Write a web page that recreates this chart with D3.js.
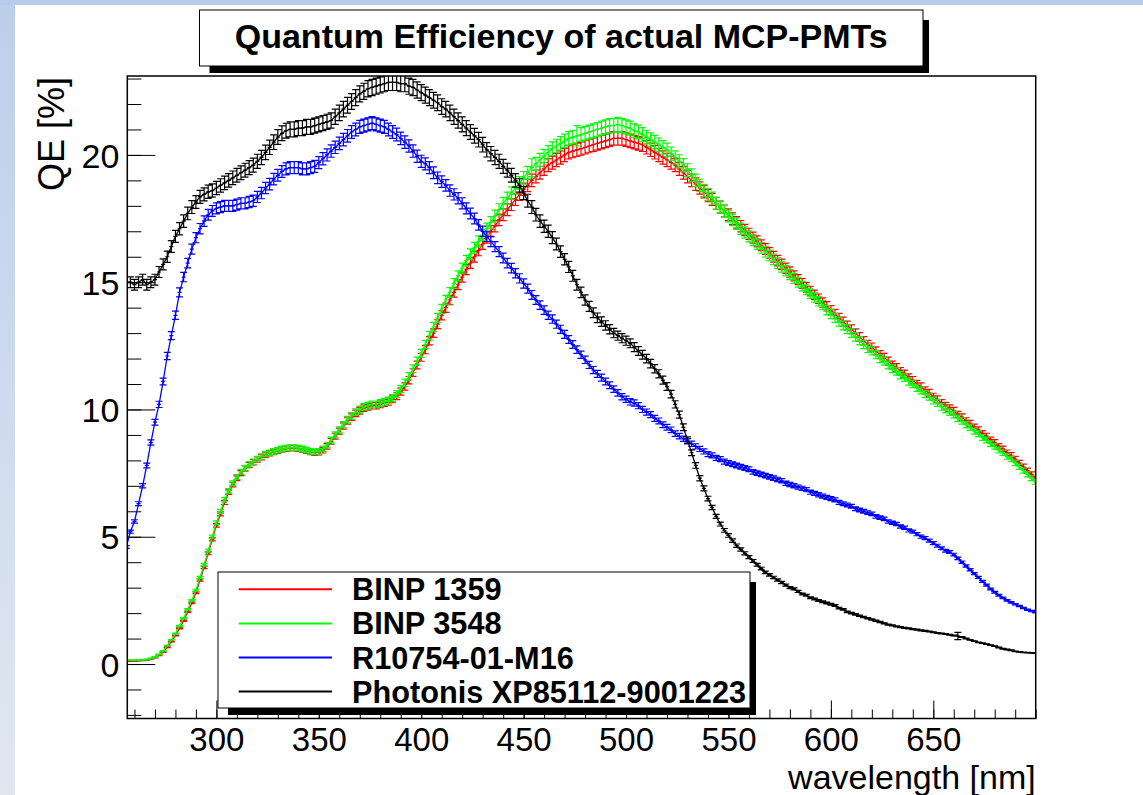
<!DOCTYPE html>
<html><head><meta charset="utf-8">
<script src="https://cdn.jsdelivr.net/npm/d3@7"></script>
<style>html,body{margin:0;padding:0;background:#fff;} svg{display:block;}</style>
</head><body><svg id="c" width="1143" height="795"></svg>
<script>
// ---------------- data ----------------
const wlStart = 256, wlStep = 2;   // wavelength grid (nm) of the measured points
const seriesNames = ["BINP 1359", "BINP 3548", "R10754-01-M16", "Photonis XP85112-9001223"];
const seriesColors = ["#ff0000", "#00ff00", "#0000ff", "#000000"];

const binp1359 = [0.12,
0.12,0.12,0.13,0.14,0.16,0.2,0.25,0.34,0.47,0.66,
0.88,1.12,1.4,1.7,2.05,2.4,2.8,3.3,3.8,4.35,
4.9,5.45,5.9,6.35,6.75,7.05,7.3,7.5,7.68,7.82,
7.93,8.03,8.12,8.22,8.28,8.33,8.38,8.43,8.46,8.48,
8.48,8.46,8.43,8.38,8.33,8.3,8.32,8.4,8.55,8.75,
8.95,9.15,9.35,9.55,9.7,9.85,9.95,10.05,10.1,10.15,
10.15,10.2,10.25,10.3,10.4,10.52,10.7,10.9,11.15,11.45,
11.75,12.05,12.35,12.7,13.0,13.35,13.7,14.0,14.3,14.6,
14.9,15.2,15.5,15.75,16.0,16.25,16.5,16.75,17.0,17.2,
17.45,17.65,17.85,18.05,18.25,18.45,18.65,18.8,19.0,19.15,
19.3,19.45,19.6,19.7,19.8,19.9,20.0,20.1,20.15,20.2,
20.25,20.3,20.35,20.4,20.45,20.5,20.55,20.6,20.65,20.65,
20.65,20.6,20.55,20.5,20.45,20.4,20.3,20.2,20.1,20.0,
19.9,19.8,19.7,19.6,19.45,19.3,19.15,19.0,18.85,18.7,
18.55,18.4,18.25,18.1,17.95,17.8,17.65,17.5,17.35,17.2,
17.05,16.9,16.75,16.6,16.45,16.3,16.15,16.0,15.85,15.7,
15.55,15.4,15.25,15.1,14.95,14.8,14.65,14.5,14.35,14.2,
14.05,13.9,13.75,13.6,13.45,13.3,13.15,13.0,12.85,12.7,
12.55,12.45,12.3,12.15,12.05,11.9,11.75,11.65,11.5,11.4,
11.25,11.15,11.0,10.9,10.75,10.65,10.5,10.4,10.25,10.15,
10.05,9.95,9.8,9.7,9.55,9.45,9.3,9.2,9.05,8.95,
8.8,8.7,8.55,8.45,8.3,8.2,8.05,7.9,7.75,7.6,
7.45,7.3];

const binp3548 = [0.15,
0.15,0.14,0.15,0.16,0.18,0.22,0.28,0.38,0.52,0.72,
0.95,1.2,1.5,1.8,2.15,2.5,2.9,3.4,3.9,4.45,
5.0,5.55,6.0,6.45,6.8,7.1,7.35,7.55,7.7,7.85,
7.95,8.05,8.15,8.25,8.3,8.35,8.4,8.45,8.48,8.5,
8.5,8.48,8.45,8.4,8.35,8.33,8.35,8.45,8.6,8.8,
9.0,9.2,9.4,9.6,9.75,9.9,10.0,10.1,10.15,10.2,
10.2,10.25,10.3,10.35,10.45,10.6,10.8,11.05,11.3,11.6,
11.9,12.2,12.55,12.9,13.25,13.6,13.95,14.3,14.6,14.95,
15.25,15.55,15.85,16.1,16.35,16.6,16.85,17.1,17.35,17.6,
17.85,18.1,18.3,18.5,18.7,18.9,19.1,19.3,19.5,19.65,
19.8,19.95,20.1,20.25,20.35,20.45,20.55,20.65,20.7,20.75,
20.8,20.85,20.9,20.95,21.0,21.05,21.1,21.15,21.15,21.2,
21.15,21.1,21.05,20.95,20.9,20.8,20.7,20.6,20.5,20.4,
20.3,20.2,20.05,19.9,19.75,19.6,19.4,19.2,19.0,18.8,
18.6,18.45,18.3,18.1,17.95,17.8,17.6,17.45,17.3,17.1,
16.95,16.8,16.65,16.5,16.35,16.2,16.05,15.9,15.75,15.6,
15.45,15.3,15.15,15.0,14.85,14.7,14.55,14.4,14.25,14.1,
13.9,13.75,13.6,13.45,13.3,13.15,13.0,12.85,12.7,12.55,
12.4,12.3,12.15,12.0,11.9,11.75,11.6,11.5,11.35,11.25,
11.1,11.0,10.85,10.75,10.6,10.5,10.35,10.25,10.1,10.0,
9.9,9.8,9.65,9.55,9.4,9.3,9.15,9.05,8.9,8.8,
8.65,8.55,8.4,8.3,8.15,8.05,7.9,7.75,7.6,7.45,
7.3,7.15];

const r10754 = [4.6,
5.2,5.6,6.3,7.0,7.8,8.7,9.5,10.2,11.1,12.1,
12.9,13.7,14.6,15.2,15.75,16.3,16.75,17.1,17.4,17.65,
17.8,17.9,17.95,18.0,18.0,18.0,18.05,18.1,18.1,18.15,
18.2,18.35,18.5,18.7,18.85,19.05,19.2,19.35,19.45,19.5,
19.5,19.5,19.45,19.45,19.5,19.55,19.7,19.85,20.0,20.15,
20.3,20.45,20.6,20.75,20.9,21.0,21.1,21.15,21.2,21.25,
21.2,21.15,21.1,21.0,20.9,20.8,20.65,20.5,20.35,20.15,
19.95,19.75,19.65,19.5,19.3,19.1,18.95,18.8,18.6,18.45,
18.3,18.1,17.9,17.7,17.5,17.25,17.0,16.8,16.6,16.4,
16.2,15.95,15.75,15.55,15.35,15.15,14.95,14.75,14.5,14.3,
14.1,13.9,13.7,13.55,13.35,13.15,12.95,12.75,12.55,12.35,
12.15,11.95,11.75,11.55,11.4,11.25,11.1,10.95,10.8,10.65,
10.5,10.4,10.3,10.25,10.15,10.0,9.9,9.8,9.65,9.55,
9.4,9.3,9.2,9.05,8.95,8.85,8.75,8.65,8.55,8.45,
8.35,8.25,8.2,8.1,8.05,7.95,7.9,7.85,7.8,7.75,
7.7,7.65,7.55,7.5,7.45,7.4,7.35,7.3,7.25,7.2,
7.1,7.05,7.0,6.95,6.9,6.85,6.75,6.7,6.65,6.6,
6.55,6.5,6.45,6.35,6.3,6.25,6.2,6.1,6.05,6.0,
5.95,5.9,5.8,5.75,5.7,5.6,5.55,5.5,5.4,5.35,
5.25,5.2,5.1,5.0,4.95,4.85,4.75,4.65,4.55,4.45,
4.4,4.3,4.15,4.0,3.85,3.7,3.55,3.4,3.25,3.1,
2.95,2.82,2.7,2.6,2.5,2.42,2.35,2.28,2.2,2.13,
2.08,2.03];

const photonis = [15.0,
15.0,14.9,15.0,15.1,14.9,15.0,15.1,15.4,15.7,16.0,
16.4,16.8,17.1,17.4,17.7,17.95,18.15,18.35,18.45,18.55,
18.6,18.7,18.8,18.9,19.0,19.1,19.2,19.3,19.4,19.5,
19.6,19.75,19.9,20.1,20.3,20.5,20.7,20.85,20.95,21.0,
21.0,21.05,21.05,21.1,21.1,21.15,21.2,21.25,21.3,21.35,
21.5,21.65,21.8,21.95,22.1,22.25,22.4,22.5,22.6,22.65,
22.7,22.75,22.8,22.85,22.85,22.85,22.8,22.8,22.7,22.65,
22.55,22.45,22.35,22.25,22.15,22.05,21.9,21.8,21.65,21.5,
21.35,21.2,21.05,20.9,20.75,20.6,20.4,20.2,20.05,19.9,
19.75,19.55,19.4,19.2,19.0,18.8,18.5,18.2,17.95,17.65,
17.4,17.2,17.0,16.75,16.5,16.2,15.9,15.6,15.25,14.9,
14.6,14.3,14.05,13.8,13.6,13.45,13.3,13.15,13.0,12.9,
12.8,12.7,12.6,12.45,12.3,12.15,12.0,11.8,11.6,11.4,
11.15,10.9,10.6,10.2,9.8,9.3,8.8,8.3,7.8,7.3,
6.9,6.5,6.15,5.8,5.5,5.25,5.05,4.85,4.65,4.5,
4.35,4.2,4.05,3.9,3.75,3.6,3.5,3.4,3.3,3.2,
3.1,3.0,2.95,2.85,2.75,2.7,2.6,2.55,2.5,2.45,
2.4,2.35,2.3,2.2,2.15,2.05,2.0,1.95,1.9,1.85,
1.8,1.75,1.7,1.65,1.6,1.55,1.52,1.48,1.45,1.42,
1.4,1.37,1.35,1.32,1.3,1.28,1.25,1.22,1.2,1.18,
1.15,1.12,1.1,1.06,1.0,0.95,0.9,0.85,0.82,0.78,
0.74,0.7,0.65,0.6,0.57,0.54,0.5,0.48,0.46,0.45,
0.44,0.43];

// relative measurement uncertainty per series, plus a few larger single error bars
const relErr = [0.013, 0.013, 0.012, 0.014];
const errSpikes = [[], [[454, 0.35], [476, 0.4]], [], [[662, 0.14]]];

const xMajorTicks = [300, 350, 400, 450, 500, 550, 600, 650];
const yMajorTicks = [0, 5, 10, 15, 20];
const xDomain = [256.5, 700];
const yDomain = [-2.14, 23.1];
const titleText = "Quantum Efficiency of actual MCP-PMTs";
const xTitle = "wavelength [nm]";
const yTitle = "QE [%]";

// ---------------- drawing ----------------
const W = 1143, H = 795;
const FONT = "'Liberation Sans', Arial, Helvetica, sans-serif";
const svg = d3.select("#c");

const defs = svg.append("defs");
const lg = defs.append("linearGradient").attr("id", "lg").attr("x1", 0).attr("y1", 0).attr("x2", 0).attr("y2", 1);
lg.append("stop").attr("offset", "0%").attr("stop-color", "#bccfeb");
lg.append("stop").attr("offset", "100%").attr("stop-color", "#e0e7f1");

svg.append("rect").attr("width", W).attr("height", H).attr("fill", "#fff");
svg.append("rect").attr("x", 0).attr("y", 0).attr("width", 15).attr("height", H).attr("fill", "url(#lg)");
svg.append("rect").attr("x", 0).attr("y", 0).attr("width", W).attr("height", 5).attr("fill", "#b9cdea");

const fx0 = 127.3, fx1 = 1035.7, fy0 = 76, fy1 = 718.5;
const x = d3.scaleLinear().domain(xDomain).range([fx0, fx1]);
const y = d3.scaleLinear().domain(yDomain).range([fy1, fy0]);

defs.append("clipPath").attr("id", "clip").append("rect")
  .attr("x", fx0).attr("y", fy0).attr("width", fx1 - fx0).attr("height", fy1 - fy0);

// axes (ticks point inwards, ROOT style)
function styleAxis(g, fs) {
  g.select(".domain").remove();
  g.attr("font-family", FONT).attr("font-size", fs);
  g.selectAll(".tick line").attr("stroke", "#000").attr("stroke-width", 1);
  g.selectAll(".tick text").attr("fill", "#000");
}
const xMinor = d3.range(260, 701, 10);
const yMinor = d3.range(-2, 24, 1);

const gxm = svg.append("g").attr("transform", `translate(0,${fy1})`)
  .call(d3.axisBottom(x).tickValues(xMinor).tickSizeInner(-9).tickSizeOuter(0).tickFormat(""));
styleAxis(gxm, 33);
const gx = svg.append("g").attr("transform", `translate(0,${fy1})`)
  .call(d3.axisBottom(x).tickValues(xMajorTicks).tickSizeInner(-18).tickSizeOuter(0).tickPadding(9).tickFormat(d3.format("d")));
styleAxis(gx, 33);

const gym = svg.append("g").attr("transform", `translate(${fx0},0)`)
  .call(d3.axisLeft(y).tickValues(yMinor).tickSizeInner(-14).tickSizeOuter(0).tickFormat(""));
styleAxis(gym, 34);
const gy = svg.append("g").attr("transform", `translate(${fx0},0)`)
  .call(d3.axisLeft(y).tickValues(yMajorTicks).tickSizeInner(-28).tickSizeOuter(0).tickPadding(8).tickFormat(d3.format("d")));
styleAxis(gy, 34);
gy.selectAll(".tick text").attr("dy", "0.36em");

// data
const allSeries = [binp1359, binp3548, r10754, photonis];
const plot = svg.append("g").attr("clip-path", "url(#clip)");
const line = d3.line().x(d => x(d[0])).y(d => y(d[1]));

allSeries.forEach((vals, si) => {
  const spikes = new Map(errSpikes[si]);
  const pts = vals.map((v, i) => {
    const w = wlStart + i * wlStep;
    const e = spikes.has(w) ? spikes.get(w) : Math.max(0.012, v * relErr[si]);
    return [w, v, e];
  });
  const p = d3.path();
  pts.forEach(([w, v, e]) => {
    const px = x(w), py = y(v), t = y(v + e), b = y(v - e);
    p.moveTo(px, t); p.lineTo(px, b);
    p.moveTo(px - 3.5, t); p.lineTo(px + 3.5, t);
    p.moveTo(px - 3.5, b); p.lineTo(px + 3.5, b);
    p.moveTo(x(w - 1), py); p.lineTo(x(w + 1), py);
  });
  plot.append("path").attr("d", p.toString()).attr("fill", "none")
    .attr("stroke", seriesColors[si]).attr("stroke-width", 1.2);
  plot.append("path").datum(pts).attr("d", line).attr("fill", "none")
    .attr("stroke", seriesColors[si]).attr("stroke-width", 1.3);
});

// frame
svg.append("rect").attr("x", fx0).attr("y", fy0).attr("width", fx1 - fx0).attr("height", fy1 - fy0)
  .attr("fill", "none").attr("stroke", "#000").attr("stroke-width", 1.5);

// axis titles
svg.append("text").attr("x", fx1).attr("y", 788.5).attr("text-anchor", "end")
  .attr("font-family", FONT).attr("font-size", 34).attr("fill", "#000").text(xTitle);
svg.append("text").attr("transform", "translate(64,77) rotate(-90)").attr("text-anchor", "end")
  .attr("font-family", FONT).attr("font-size", 36).attr("fill", "#000").text(yTitle);

// shadowed pave helper (ROOT TPave style)
function pave(x0, y0, x1, y1) {
  svg.append("rect").attr("x", x0 + 10).attr("y", y1).attr("width", x1 - x0 - 4).attr("height", 7).attr("fill", "#000");
  svg.append("rect").attr("x", x1).attr("y", y0 + 10).attr("width", 6).attr("height", y1 - y0 - 3).attr("fill", "#000");
  svg.append("rect").attr("x", x0).attr("y", y0).attr("width", x1 - x0).attr("height", y1 - y0)
    .attr("fill", "#fff").attr("stroke", "#000").attr("stroke-width", 1);
}

// title
pave(199.5, 10, 923, 66);
svg.append("text").attr("x", (199.5 + 923) / 2).attr("y", 47.5).attr("text-anchor", "middle")
  .attr("font-family", FONT).attr("font-weight", "bold").attr("font-size", 34).attr("fill", "#000").text(titleText);

// legend
pave(218, 572, 750, 708);
seriesNames.forEach((name, i) => {
  const cy = 589.3 + i * 34.1;
  svg.append("line").attr("x1", 238.7).attr("x2", 332).attr("y1", cy).attr("y2", cy)
    .attr("stroke", seriesColors[i]).attr("stroke-width", 2);
  svg.append("text").attr("x", 352).attr("y", cy + 11).attr("font-family", FONT)
    .attr("font-weight", "bold").attr("font-size", 30.7).attr("fill", "#000").text(name);
});
</script>
</body></html>
